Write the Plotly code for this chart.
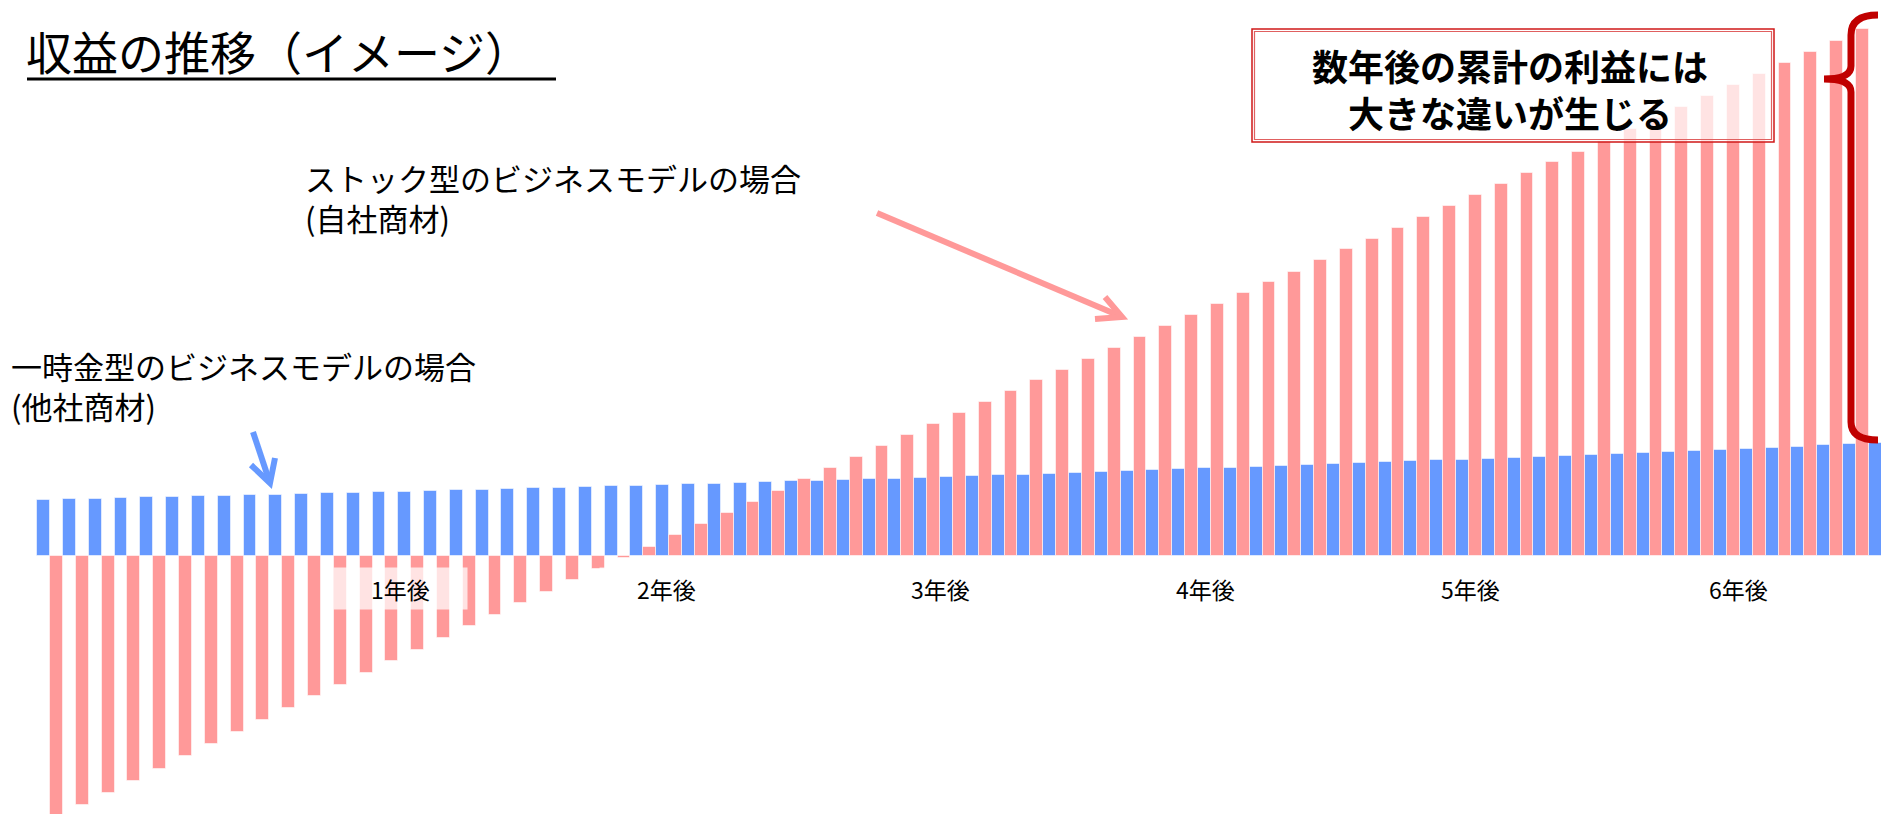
import plotly.graph_objects as go

# ---------------- data ----------------
MONTHS = list(range(1, 73))

# 一時金型（他社商材） – blue
ONE_TIME = [56, 57, 57.3, 58, 58.7, 59.3, 59.7, 60.3, 60.7, 61.3,
            62, 62.7, 63.3, 63.8, 64.3, 65, 65.7, 66.3, 67, 67.7,
            68.3, 69, 69.7, 70.2, 71, 71.7, 72.5, 73, 73.7, 74.7,
            75.3, 76, 76.7, 77.3, 78.3, 79, 79.7, 80.7, 81.3, 82.3,
            83.3, 84.3, 85, 85.7, 86.7, 87.7, 88.3, 89.3, 90.3, 91.3,
            92, 92.7, 93.7, 94.7, 95.7, 96.5, 97, 98, 99, 100,
            101, 102, 103.3, 104.3, 105.3, 106.3, 107.3, 108.3, 109.3, 110.7,
            111.7, 112.7]

# ストック型（自社商材） – pink
STOCK = [-261, -249, -237, -225, -213, -200, -188, -176, -164, -152,
         -140, -129, -117, -105, -94, -82, -70, -59, -47, -36,
         -24, -13, -1.5, 9, 21, 32, 43, 54, 65, 77,
         88, 99, 110, 121, 132, 143, 154, 165, 176, 186,
         197, 208, 219, 230, 241, 252, 263, 274, 284, 296,
         307, 317, 328, 339, 350, 361, 372, 383, 394, 404,
         415, 427, 438, 449, 460, 471, 482, 493, 504, 515,
         527, 538]

YEAR_LABELS = ["1年後", "2年後", "3年後", "4年後", "5年後", "6年後"]

# ---------------- layout constants ----------------
W, H = 1881, 814
YEAR_LABEL_X = [14.57, 24.91, 35.5, 45.77, 56.04, 66.43]
X_RANGE = [-0.938, 71.97]
Y_RANGE = [-258, 556]

BLUE = "#6699FF"
PINK = "#FF9999"
RED = "#C00000"
FONT = "Noto Sans CJK JP"


def fx(px):
    return px / W


def fy(py):
    return 1 - py / H


fig = go.Figure()
fig.add_bar(x=MONTHS, y=ONE_TIME, name="一時金型",
            marker=dict(color=BLUE, line=dict(color="rgba(255,255,255,0.55)", width=1)))
fig.add_bar(x=MONTHS, y=STOCK, name="ストック型",
            marker=dict(color=PINK, line=dict(color="rgba(255,255,255,0.55)", width=1)))

fig.update_layout(
    width=W, height=H,
    margin=dict(l=0, r=0, t=0, b=0, pad=0),
    barmode="group", bargap=0, bargroupgap=0,
    showlegend=False,
    plot_bgcolor="white", paper_bgcolor="white",
    xaxis=dict(range=X_RANGE, visible=False, fixedrange=True),
    yaxis=dict(range=Y_RANGE, visible=False, fixedrange=True),
    font=dict(family=FONT, color="#000000"),
)

ann = []


def text(t, x, y, size, xanchor="left", bold=False, align="left"):
    ann.append(dict(text=("<b>%s</b>" % t) if bold else t, x=fx(x), y=fy(y),
                    xref="paper", yref="paper", xanchor=xanchor, yanchor="middle",
                    align=align, showarrow=False,
                    font=dict(family=FONT, size=size, color="#000000")))


text("収益の推移（イメージ）", 24, 50, 46)
text("ストック型のビジネスモデルの場合<br>(自社商材)", 303, 198, 31)
text("一時金型のビジネスモデルの場合<br>(他社商材)", 9, 385, 31)
text("数年後の累計の利益には<br>大きな違いが生じる", 1510, 88, 36,
     xanchor="center", bold=True, align="center")

for lab, xv in zip(YEAR_LABELS, YEAR_LABEL_X):
    ann.append(dict(text=lab, x=xv, y=fy(588), xref="x", yref="paper",
                    xanchor="center", yanchor="middle", showarrow=False,
                    width=133, height=41, borderpad=0,
                    bgcolor="rgba(255,255,255,0.72)",
                    font=dict(family=FONT, size=23, color="#000000")))

shapes = []
# title underline
shapes.append(dict(type="line", xref="paper", yref="paper",
                   x0=fx(27), x1=fx(556), y0=fy(79), y1=fy(79),
                   line=dict(color="black", width=3)))


def path(points):
    s = ""
    for cmd, pts in points:
        s += cmd + " " + " ".join("%f,%f" % (fx(a), fy(b)) for a, b in pts) + " "
    return s.strip()


# blue arrow
shapes.append(dict(type="path", xref="paper", yref="paper",
                   path=path([("M", [(253, 432)]), ("L", [(270, 483)])]),
                   line=dict(color=BLUE, width=6)))
shapes.append(dict(type="path", xref="paper", yref="paper",
                   path=path([("M", [(251, 465)]), ("L", [(270, 483)]), ("L", [(275, 458)])]),
                   line=dict(color=BLUE, width=6)))
# pink arrow
shapes.append(dict(type="path", xref="paper", yref="paper",
                   path=path([("M", [(877, 213)]), ("L", [(1120, 316)])]),
                   line=dict(color=PINK, width=6)))
shapes.append(dict(type="path", xref="paper", yref="paper",
                   path=path([("M", [(1105, 297)]), ("L", [(1122, 317)]), ("L", [(1095, 319)])]),
                   line=dict(color=PINK, width=6)))

# message box (double red border)
shapes.append(dict(type="rect", xref="paper", yref="paper", layer="above",
                   x0=fx(1252), x1=fx(1774), y0=fy(29), y1=fy(142),
                   fillcolor="rgba(255,255,255,0.72)",
                   line=dict(color="#D01818", width=1.5)))
shapes.append(dict(type="rect", xref="paper", yref="paper", layer="above",
                   x0=fx(1254.5), x1=fx(1771.5), y0=fy(31.5), y1=fy(139.5),
                   line=dict(color="#E06060", width=1.2)))

# red curly brace
shapes.append(dict(type="path", xref="paper", yref="paper",
                   path=path([("M", [(1878, 15)]),
                              ("Q", [(1851, 15), (1851, 35)]),
                              ("L", [(1851, 66)]),
                              ("Q", [(1851, 79), (1824, 79)]),
                              ("Q", [(1851, 79), (1851, 92)]),
                              ("L", [(1851, 422)]),
                              ("Q", [(1851, 440), (1878, 440)])]),
                   line=dict(color=RED, width=7)))

fig.update_layout(annotations=ann, shapes=shapes)

fig.write_html("out.html",
               config={"displayModeBar": False},
               post_script="document.body.style.margin='0';document.body.style.overflow='hidden';")
